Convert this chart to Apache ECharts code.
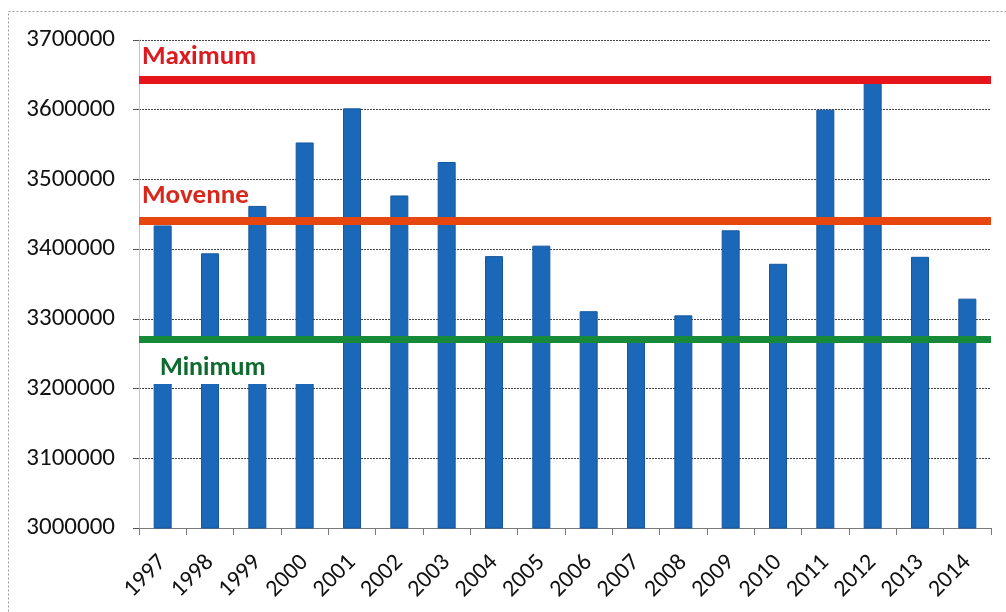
<!DOCTYPE html>
<html>
<head>
<meta charset="utf-8">
<script src="https://cdn.jsdelivr.net/npm/echarts@6/dist/echarts.min.js"></script>
<style>
html,body{margin:0;padding:0;background:#fff;}
#chart{width:1006px;height:612px;}
</style>
</head>
<body>
<div id="chart"></div>
<script>
const years = ['1997','1998','1999','2000','2001','2002','2003','2004','2005','2006','2007','2008','2009','2010','2011','2012','2013','2014'];
const values = [3434000, 3394000, 3462000, 3553000, 3602000, 3477000, 3525000, 3390000, 3405000, 3311000, 3268000, 3305000, 3427000, 3379000, 3600000, 3641000, 3389000, 3329000];
const maximumValue = 3643000;
const moyenneValue = 3441000;
const minimumValue = 3271000;
const yTicks = {min: 3000000, max: 3700000, interval: 100000};

const FONT = 'Carlito, Lato, sans-serif';
const chart = echarts.init(document.getElementById('chart'), null, {renderer: 'canvas'});
chart.setOption({
  backgroundColor: '#ffffff',
  animation: false,
  graphic: [{
    type: 'rect', silent: true, z: -10,
    shape: {x: 8.5, y: 11.5, width: 1100, height: 700},
    style: {fill: 'none', stroke: '#9a9a9a', lineWidth: 1, lineDash: [2, 2]}
  }],
  grid: {left: 139, right: 15, top: 40, bottom: 84, containLabel: false},
  xAxis: {
    type: 'category',
    data: years,
    boundaryGap: true,
    axisLine: {show: true, lineStyle: {color: '#7a7a7a', width: 1}},
    axisTick: {show: true, length: 7, lineStyle: {color: '#7a7a7a'}},
    axisLabel: {rotate: 45, margin: 31, fontFamily: FONT, fontSize: 24, color: '#111', interval: 0}
  },
  yAxis: {
    type: 'value',
    min: yTicks.min, max: yTicks.max, interval: yTicks.interval,
    axisLine: {show: true, lineStyle: {color: '#c4c4c4', width: 1}},
    axisTick: {show: true, length: 6, lineStyle: {color: '#555'}},
    axisLabel: {margin: 24, fontFamily: FONT, fontSize: 25, color: '#111', formatter: function (v) { return String(v); }},
    splitLine: {show: true, lineStyle: {color: '#444', width: 1, type: [2, 1]}}
  },
  series: [{
    type: 'bar',
    data: values,
    barWidth: 18,
    itemStyle: {color: '#1b68b8', borderColor: '#17579f', borderWidth: 1},
    z: 2
  }, {
    type: 'line',
    data: [],
    z: 5,
    markLine: {
      silent: true,
      symbol: 'none',
      animation: false,
      data: [{
        yAxis: maximumValue,
        lineStyle: {color: '#e8141b', width: 8, type: 'solid'},
        label: {show: true, position: 'insideStartTop', distance: [3, 8], formatter: 'Maximum',
          fontFamily: FONT, fontWeight: 'bold', fontSize: 27, lineHeight: 28, color: '#dc1a1f'}
      }, {
        yAxis: moyenneValue,
        lineStyle: {color: '#e8460f', width: 8, type: 'solid'},
        label: {show: true, position: 'insideStartTop', distance: [3, 10], formatter: 'Movenne',
          fontFamily: FONT, fontWeight: 'bold', fontSize: 27, lineHeight: 28, color: '#d8281c'}
      }, {
        yAxis: minimumValue,
        lineStyle: {color: '#178a3a', width: 7, type: 'solid'},
        label: {show: true, position: 'insideStartBottom', distance: [6, 4], formatter: 'Minimum',
          fontFamily: FONT, fontWeight: 'bold', fontSize: 26, lineHeight: 28, color: '#0e6a2e',
          backgroundColor: '#ffffff', width: 160, padding: [11, 0, 2, 15]}
      }]
    }
  }]
});
</script>
</body>
</html>
